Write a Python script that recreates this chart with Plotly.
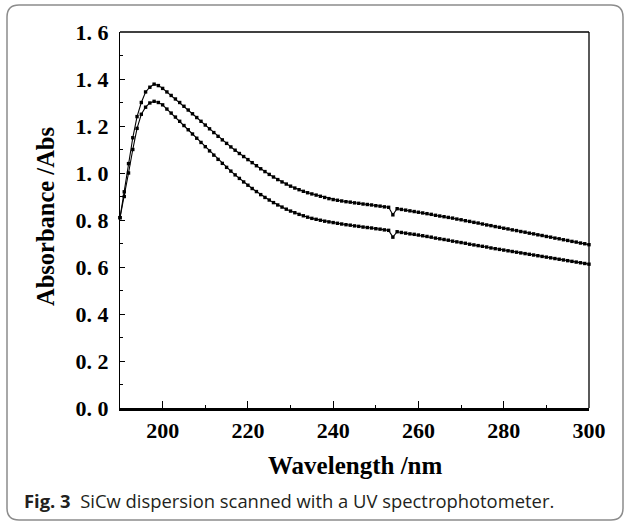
import plotly.graph_objects as go

wavelength = [
    190, 191, 192, 193, 194, 195, 196, 197, 198, 199,
    200, 201, 202, 203, 204, 205, 206, 207, 208, 209,
    210, 211, 212, 213, 214, 215, 216, 217, 218, 219,
    220, 221, 222, 223, 224, 225, 226, 227, 228, 229,
    230, 231, 232, 233, 234, 235, 236, 237, 238, 239,
    240, 241, 242, 243, 244, 245, 246, 247, 248, 249,
    250, 251, 252, 253, 254, 255, 256, 257, 258, 259,
    260, 261, 262, 263, 264, 265, 266, 267, 268, 269,
    270, 271, 272, 273, 274, 275, 276, 277, 278, 279,
    280, 281, 282, 283, 284, 285, 286, 287, 288, 289,
    290, 291, 292, 293, 294, 295, 296, 297, 298, 299,
    300,
]

absorbance_upper = [
    0.810, 0.920, 1.040, 1.150, 1.240, 1.300, 1.345, 1.365, 1.378, 1.372,
    1.360, 1.345, 1.330, 1.315, 1.300, 1.284, 1.268, 1.252, 1.236, 1.220,
    1.204, 1.188, 1.172, 1.156, 1.141, 1.126, 1.111, 1.097, 1.083, 1.070,
    1.057, 1.044, 1.031, 1.018, 1.006, 0.994, 0.983, 0.972, 0.962, 0.953,
    0.944, 0.936, 0.929, 0.922, 0.916, 0.911, 0.906, 0.901, 0.896, 0.891,
    0.887, 0.884, 0.881, 0.878, 0.876, 0.873, 0.871, 0.868, 0.866, 0.864,
    0.861, 0.859, 0.856, 0.854, 0.822, 0.848, 0.845, 0.842, 0.839, 0.836,
    0.833, 0.830, 0.827, 0.824, 0.820, 0.817, 0.814, 0.811, 0.808, 0.804,
    0.801, 0.797, 0.794, 0.790, 0.787, 0.783, 0.779, 0.776, 0.772, 0.769,
    0.765, 0.762, 0.758, 0.755, 0.751, 0.748, 0.744, 0.741, 0.737, 0.734,
    0.730, 0.727, 0.723, 0.720, 0.716, 0.713, 0.709, 0.706, 0.702, 0.699,
    0.695,
]

absorbance_lower = [
    0.810, 0.900, 1.000, 1.100, 1.190, 1.250, 1.280, 1.298, 1.305, 1.300,
    1.290, 1.272, 1.255, 1.238, 1.220, 1.202, 1.184, 1.166, 1.148, 1.130,
    1.112, 1.094, 1.076, 1.058, 1.041, 1.024, 1.008, 0.992, 0.977, 0.962,
    0.948, 0.934, 0.921, 0.908, 0.896, 0.885, 0.874, 0.864, 0.855, 0.846,
    0.838, 0.831, 0.824, 0.818, 0.812, 0.807, 0.803, 0.799, 0.795, 0.792,
    0.789, 0.786, 0.783, 0.780, 0.778, 0.775, 0.773, 0.770, 0.768, 0.766,
    0.763, 0.761, 0.758, 0.756, 0.727, 0.750, 0.747, 0.744, 0.741, 0.739,
    0.736, 0.733, 0.730, 0.727, 0.723, 0.720, 0.717, 0.714, 0.710, 0.707,
    0.704, 0.701, 0.697, 0.694, 0.691, 0.688, 0.685, 0.681, 0.678, 0.675,
    0.672, 0.669, 0.666, 0.663, 0.660, 0.657, 0.654, 0.651, 0.648, 0.645,
    0.642, 0.639, 0.636, 0.633, 0.630, 0.627, 0.624, 0.621, 0.618, 0.615,
    0.612,
]

x_tickvals = [200, 220, 240, 260, 280, 300]
x_ticktext = ["200", "220", "240", "260", "280", "300"]
y_tickvals = [0.0, 0.2, 0.4, 0.6, 0.8, 1.0, 1.2, 1.4, 1.6]
y_ticktext = ["0. 0", "0. 2", "0. 4", "0. 6", "0. 8", "1. 0", "1. 2", "1. 4", "1. 6"]

x_title = "Wavelength /nm"
y_title = "Absorbance /Abs"
caption_bold = "Fig. 3"
caption_text = "SiCw dispersion scanned with a UV spectrophotometer."

W, H = 626, 522
L, R, T, B = 120, 37, 32, 114
PW, PH = W - L - R, H - T - B


def px(xp):
    return (xp - L) / PW


def py(yp):
    return (H - B - yp) / PH


fig = go.Figure()
for series in (absorbance_upper, absorbance_lower):
    fig.add_trace(go.Scatter(
        x=wavelength, y=series, mode="lines+markers",
        line=dict(color="black", width=1.1),
        marker=dict(symbol="square", size=3.4, color="black", line=dict(width=0)),
        cliponaxis=False, showlegend=False, hoverinfo="skip",
    ))

tick_font = dict(family="Liberation Serif", size=22, color="black", weight="bold")

fig.update_xaxes(
    range=[190, 300], tickmode="array", tickvals=x_tickvals, ticktext=x_ticktext,
    ticks="inside", ticklen=7, tickwidth=1.2, tickcolor="black",
    minor=dict(ticks="inside", ticklen=3, tickwidth=1.2, tickcolor="black",
               tickmode="array", tickvals=[190, 210, 230, 250, 270, 290]),
    showline=True, linecolor="black", linewidth=2.5, mirror=False,
    showgrid=False, zeroline=False,
    tickfont=tick_font, ticklabelstandoff=1,
)
fig.update_yaxes(
    range=[0, 1.6], tickmode="array", tickvals=y_tickvals, ticktext=y_ticktext,
    ticks="inside", ticklen=5, tickwidth=1.2, tickcolor="black",
    minor=dict(ticks="inside", ticklen=3, tickwidth=1.2, tickcolor="black",
               tickmode="array", tickvals=[0.1, 0.3, 0.5, 0.7, 0.9, 1.1, 1.3, 1.5]),
    showline=True, linecolor="black", linewidth=1.3, mirror=False,
    showgrid=False, zeroline=False,
    tickfont=tick_font, ticklabelstandoff=6,
)

# frame top and right
fig.add_shape(type="line", xref="paper", yref="paper", x0=0, x1=1, y0=1, y1=1,
              line=dict(color="black", width=1.3))
fig.add_shape(type="line", xref="paper", yref="paper", x0=1, x1=1, y0=0, y1=1,
              line=dict(color="black", width=1.3))

# rounded caption box
xl, xr = px(7), px(623)
yt, yb = py(5), py(520)
rx, ry = 12 / PW, 12 / PH
path = (f"M {xl+rx},{yt} L {xr-rx},{yt} Q {xr},{yt} {xr},{yt-ry} "
        f"L {xr},{yb+ry} Q {xr},{yb} {xr-rx},{yb} "
        f"L {xl+rx},{yb} Q {xl},{yb} {xl},{yb+ry} "
        f"L {xl},{yt-ry} Q {xl},{yt} {xl+rx},{yt} Z")
fig.add_shape(type="path", xref="paper", yref="paper", path=path,
              line=dict(color="#8c8c8c", width=1.5), fillcolor="rgba(0,0,0,0)")

fig.add_annotation(text=f"<b>{x_title}</b>", xref="paper", yref="paper",
                   x=px(355), y=py(465), showarrow=False,
                   font=dict(family="Liberation Serif", size=25, color="black"),
                   xanchor="center", yanchor="middle")
fig.add_annotation(text=f"<b>{y_title}</b>", xref="paper", yref="paper",
                   x=px(45), y=py(217), showarrow=False,
                   font=dict(family="Liberation Serif", size=24.5, color="black"),
                   textangle=-90, xanchor="center", yanchor="middle")
fig.add_annotation(text=f"<b>{caption_bold}</b>  {caption_text}", xref="paper", yref="paper",
                   x=px(22), y=py(500), showarrow=False,
                   font=dict(family="Open Sans", size=18.4, color="#231f20"),
                   xanchor="left", yanchor="middle")

fig.update_layout(
    width=W, height=H,
    margin=dict(l=L, r=R, t=T, b=B, pad=0),
    paper_bgcolor="white", plot_bgcolor="white",
)

fig.write_html("out.html")
